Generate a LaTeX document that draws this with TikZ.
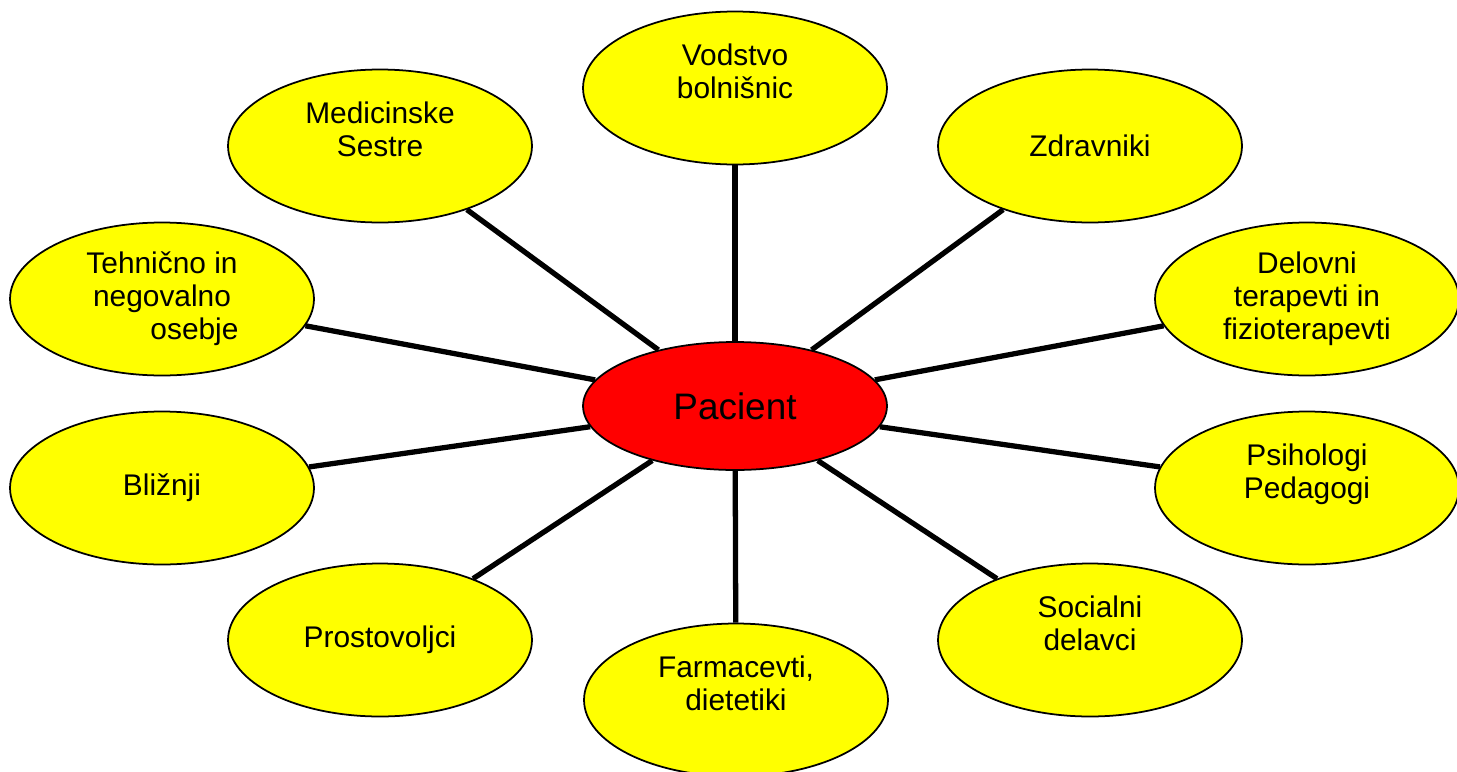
\documentclass[tikz,border=0pt]{standalone}
\usepackage{fontspec}
\setmainfont{Liberation Sans}
\usepackage{tikz}
\usetikzlibrary{shapes.geometric}
\definecolor{RoleFill}{RGB}{255,255,0}
\definecolor{PatFill} {RGB}{255,0,0}
\tikzset{
  nd_role/.style={
    ellipse, draw=black, fill=RoleFill, line width=1pt,
    minimum width=6.08cm, minimum height=3.06cm, inner sep=0pt,
    align=center, font=\fontsize{17}{18.8}\selectfont},
  nd_pat/.style={
    ellipse, draw=black, fill=PatFill, line width=1pt,
    minimum width=6.08cm, minimum height=2.56cm, inner sep=0pt,
    align=center, font=\fontsize{21}{24}\selectfont},
  lnk/.style={line width=3pt},
}

\begin{document}
\begin{tikzpicture}[x=0.02cm,y=-0.02cm]
\useasboundingbox (0,0) rectangle (1457,771);

%% centre
\node[nd_pat]  at (735,406)  (P){Pacient};

%% ring
\node[nd_role] at (735,88)   (V){Vodstvo\\bolnišnic\\~};
\node[nd_role] at (1090,146) (Z){Zdravniki};
\node[nd_role] at (1307,299) (D){Delovni\\terapevti in\\fizioterapevti};
\node[nd_role] at (1307,488) (Ps){Psihologi\\Pedagogi\\~};
\node[nd_role] at (1090,640) (S){Socialni\\delavci\\~};
\node[nd_role] at (736,700)  (F){Farmacevti,\\dietetiki\\~};
\node[nd_role] at (380,640)  (Pr){Prostovoljci};
\node[nd_role] at (162,488)  (B){Bližnji};
\node[nd_role] at (162,299)  (T){Tehnično in\\negovalno\\\hspace*{1.3cm}osebje};
\node[nd_role] at (380,146)  (M){Medicinske\\Sestre\\~};

\foreach \n in {V,Z,D,Ps,S,F,Pr,B,T,M}
  {\draw[lnk] (P)--(\n);}

\end{tikzpicture}
\end{document}
